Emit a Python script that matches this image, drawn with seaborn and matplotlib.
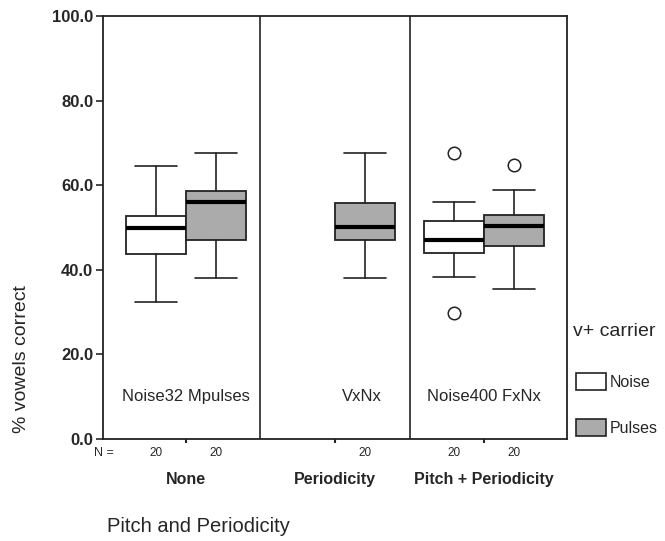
import matplotlib
matplotlib.use('Agg')
import matplotlib.pyplot as plt
from matplotlib.patches import Patch
import seaborn as sns

sns.set_style('white')
plt.rcParams['font.family'] = ['Liberation Sans', 'DejaVu Sans']

# dados (min, Q1, mediana, Q3, max)
grupos = ['None', 'Periodicity', 'Pitch + Periodicity']
condicoes = ['Noise32 Mpulses', 'VxNx', 'Noise400 FxNx']
noise_stats = [(32.3, 43.8, 49.9, 52.8, 64.5), None, (38.2, 44.0, 47.1, 51.5, 56.0)]
noise_out = [[], [], [67.7, 29.7]]
pulses_stats = [(38.0, 47.1, 56.0, 58.7, 67.6), (38.1, 47.0, 50.1, 55.9, 67.7), (35.4, 45.7, 50.3, 53.0, 58.9)]
pulses_out = [[], [], [64.7]]
noise_n = [20, None, 20]
pulses_n = [20, 20, 20]
yticks = [0, 20, 40, 60, 80, 100]

cinza = '#ababab'

fig = plt.figure(figsize=(6.65, 5.41), dpi=100)
ax = fig.add_axes([103/665, 1-439/541, 464/665, 423/541])

def monta(stats, outs):
    lista, pos = [], []
    for i, (s, o) in enumerate(zip(stats, outs)):
        if s is None:
            continue
        lista.append({'whislo': s[0], 'q1': s[1], 'med': s[2], 'q3': s[3], 'whishi': s[4], 'fliers': o})
        pos.append(i)
    return lista, pos

for stats, outs, desl, cor in [(noise_stats, noise_out, -0.2, 'white'), (pulses_stats, pulses_out, 0.2, cinza)]:
    lista, pos = monta(stats, outs)
    ax.bxp(lista, positions=[p + desl for p in pos], widths=0.4, capwidths=0.28,
           patch_artist=True, showfliers=True,
           boxprops=dict(facecolor=cor, edgecolor='#222222', linewidth=1.3),
           medianprops=dict(color='black', linewidth=3),
           whiskerprops=dict(color='#222222', linewidth=1.2),
           capprops=dict(color='#222222', linewidth=1.2),
           flierprops=dict(marker='o', markerfacecolor='white', markeredgecolor='#222222',
                           markersize=9, markeredgewidth=1.1))

ax.set_xlim(-0.557, 2.557)
ax.set_ylim(0, 100)
for x in [0.5, 1.5]:
    ax.axvline(x, color='#222222', lw=1.2)
for s in ax.spines.values():
    s.set_color('#222222')
    s.set_linewidth(1.3)

ax.set_yticks(yticks, [f'{v:.1f}' for v in yticks])
ax.tick_params(axis='y', direction='out', length=5, width=1.2, labelsize=12, pad=2, left=True)
ax.set_xticks(range(len(grupos)), grupos)
ax.tick_params(axis='x', direction='out', length=3, width=1.5, labelsize=11.5, pad=21, bottom=True)
for t in ax.get_xticklabels() + ax.get_yticklabels():
    t.set_fontweight('bold')

# nomes das condições dentro do gráfico
for x, txt in zip([0, 1.18, 2], condicoes):
    ax.text(x, 10, txt, ha='center', va='center', fontsize=12)

# linha de N
tr = ax.get_xaxis_transform()
ax.text(-0.55, -0.034, 'N =', transform=tr, ha='center', va='center', fontsize=9)
for i in range(len(grupos)):
    if noise_n[i] is not None:
        ax.text(i - 0.2, -0.034, str(noise_n[i]), transform=tr, ha='center', va='center', fontsize=8.5)
    if pulses_n[i] is not None:
        ax.text(i + 0.2, -0.034, str(pulses_n[i]), transform=tr, ha='center', va='center', fontsize=8.5)

fig.text(22/665, 1-359/541, '% vowels correct', rotation=90, ha='center', va='center', fontsize=14)
fig.text(198/665, 1-527/541, 'Pitch and Periodicity', ha='center', va='center', fontsize=14.5)

# legenda
fig.text(573/665, 1-332/541, 'v+ carrier', ha='left', va='center', fontsize=14)
handles = [Patch(facecolor='white', edgecolor='#222222', linewidth=1.2, label='Noise'),
           Patch(facecolor=cinza, edgecolor='#222222', linewidth=1.2, label='Pulses')]
fig.legend(handles=handles, loc='upper left', bbox_to_anchor=(576/665, 1-373/541),
           frameon=False, fontsize=11.5, handlelength=1.9, handleheight=1.25,
           handletextpad=0.2, labelspacing=1.85, borderpad=0, borderaxespad=0)

fig.savefig('out.png', dpi=100)
